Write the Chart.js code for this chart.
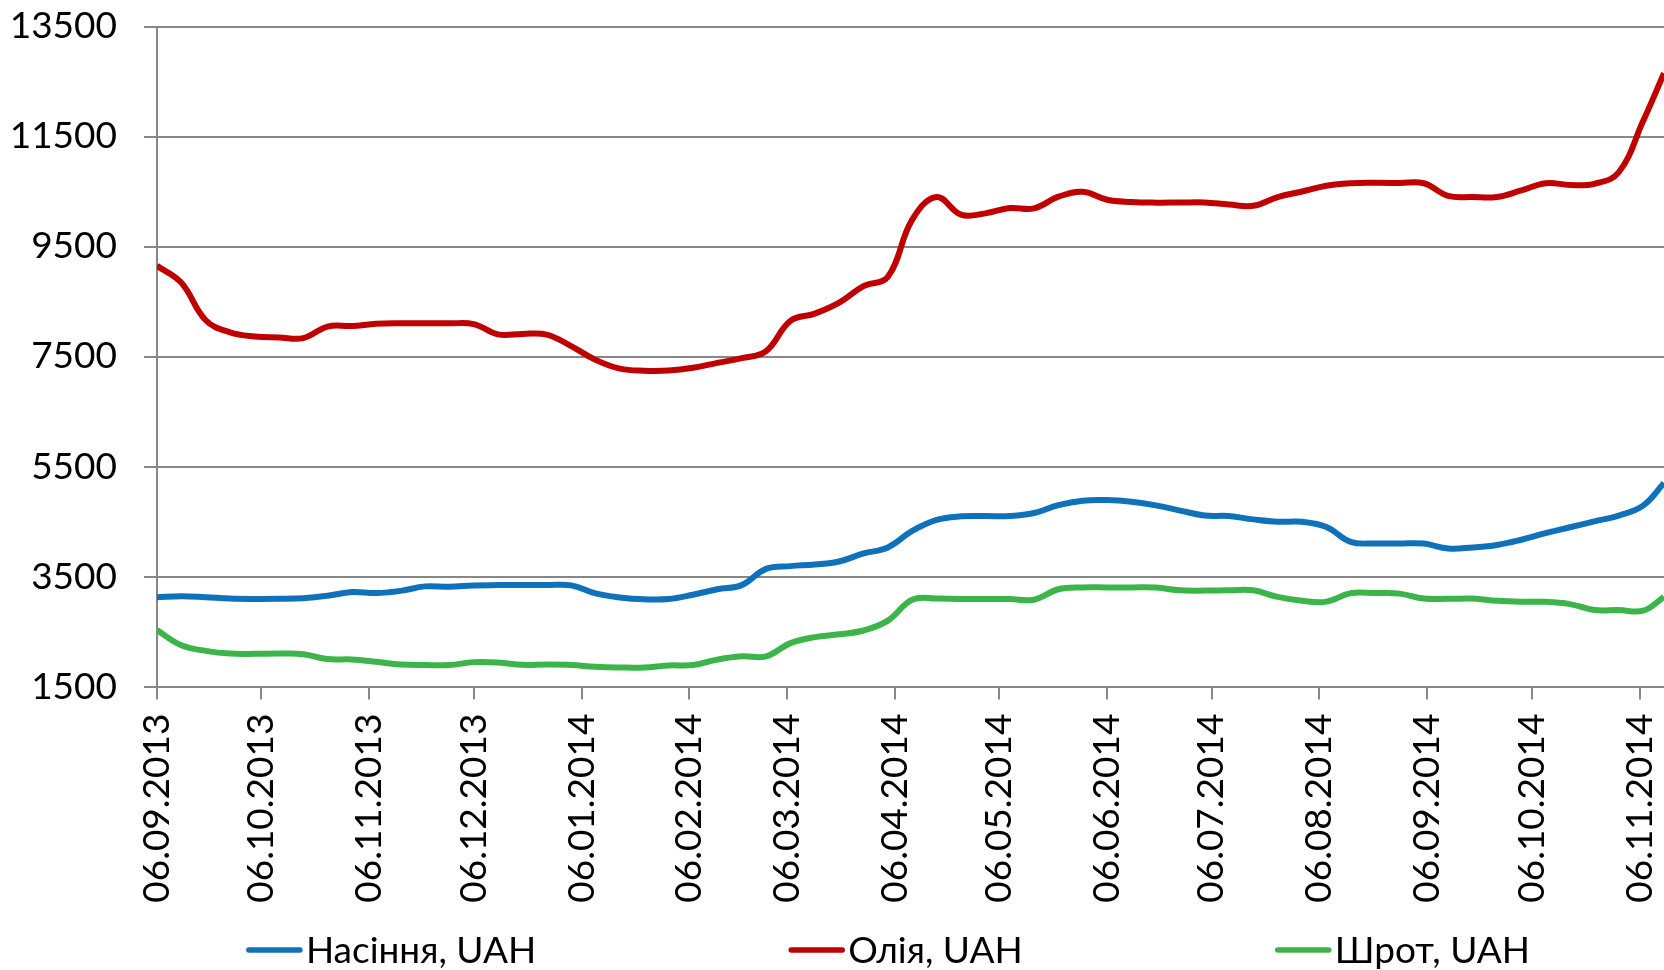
<!DOCTYPE html>
<html>
<head>
<meta charset="utf-8">
<title>Ціни</title>
<script src="https://cdn.jsdelivr.net/npm/chart.js@4.4.0/dist/chart.umd.min.js"></script>
<style>
    body { margin: 0; background: #fff; }
    canvas { display: block; }
</style>
</head>
<body>
<canvas id="prices" width="1664" height="970"></canvas>
<script>
// weekly observations
var dates = [
    '06.09.2013', '13.09.2013', '20.09.2013', '27.09.2013', '04.10.2013', '11.10.2013', '18.10.2013', '25.10.2013',
    '01.11.2013', '08.11.2013', '15.11.2013', '22.11.2013', '29.11.2013', '06.12.2013', '13.12.2013', '20.12.2013',
    '27.12.2013', '03.01.2014', '10.01.2014', '17.01.2014', '24.01.2014', '31.01.2014', '07.02.2014', '14.02.2014',
    '21.02.2014', '28.02.2014', '07.03.2014', '14.03.2014', '21.03.2014', '28.03.2014', '04.04.2014', '11.04.2014',
    '18.04.2014', '25.04.2014', '02.05.2014', '09.05.2014', '16.05.2014', '23.05.2014', '30.05.2014', '06.06.2014',
    '13.06.2014', '20.06.2014', '27.06.2014', '04.07.2014', '11.07.2014', '18.07.2014', '25.07.2014', '01.08.2014',
    '08.08.2014', '15.08.2014', '22.08.2014', '29.08.2014', '05.09.2014', '12.09.2014', '19.09.2014', '26.09.2014',
    '03.10.2014', '10.10.2014', '17.10.2014', '24.10.2014', '31.10.2014', '07.11.2014', '13.11.2014'
];

var seedPrices = [
    3122, 3144, 3125, 3100, 3093, 3095, 3105, 3150, 3220, 3200,
    3240, 3322, 3316, 3340, 3345, 3345, 3345, 3340, 3194, 3120,
    3087, 3091, 3170, 3270, 3345, 3640, 3690, 3720, 3775, 3920,
    4030, 4330, 4530, 4595, 4600, 4600, 4655, 4800, 4880, 4890,
    4860, 4795, 4700, 4610, 4600, 4540, 4497, 4495, 4400, 4130,
    4103, 4103, 4100, 4010, 4030, 4075, 4170, 4290, 4397, 4504,
    4610, 4790, 5200
];

var oilPrices = [
    9150, 8840, 8160, 7940, 7865, 7847, 7835, 8045, 8055, 8095,
    8104, 8104, 8104, 8090, 7903, 7912, 7900, 7690, 7440, 7280,
    7242, 7245, 7295, 7385, 7470, 7600, 8150, 8280, 8480, 8780,
    8950, 9990, 10400, 10080, 10103, 10200, 10194, 10406, 10495, 10350,
    10310, 10298, 10300, 10302, 10265, 10240, 10400, 10500, 10605, 10650,
    10658, 10655, 10650, 10420, 10400, 10400, 10520, 10650, 10620, 10640,
    10850, 11780, 12650
];

var mealPrices = [
    2527, 2250, 2150, 2100, 2095, 2100, 2090, 2000, 1994, 1950,
    1900, 1891, 1891, 1945, 1938, 1895, 1900, 1893, 1860, 1848,
    1848, 1885, 1891, 1990, 2050, 2050, 2290, 2400, 2450, 2520,
    2700, 3080, 3100, 3091, 3091, 3091, 3080, 3270, 3303, 3303,
    3303, 3300, 3250, 3245, 3250, 3250, 3130, 3060, 3045, 3200,
    3200, 3190, 3100, 3095, 3100, 3060, 3042, 3042, 3000, 2892,
    2891, 2880, 3130
];

var seriesNames = ['Насіння, UAH', 'Олія, UAH', 'Шрот, UAH'];

var xTickLabels = [
    '06.09.2013', '06.10.2013', '06.11.2013', '06.12.2013', '06.01.2014',
    '06.02.2014', '06.03.2014', '06.04.2014', '06.05.2014', '06.06.2014',
    '06.07.2014', '06.08.2014', '06.09.2014', '06.10.2014', '06.11.2014'
];

var yTicks = [1500, 3500, 5500, 7500, 9500, 11500, 13500];

var FONT_FAMILY = "Lato, 'Noto Sans', 'Liberation Sans', sans-serif";
var GRID = '#878787';

// days since the first date, so the x axis keeps calendar spacing
function dayNumber(s) {
    var p = s.split('.');
    var t = Date.UTC(+p[2], +p[1] - 1, +p[0]);
    var p0 = dates[0].split('.');
    var t0 = Date.UTC(+p0[2], +p0[1] - 1, +p0[0]);
    return Math.round((t - t0) / 86400000);
}

function toPoints(values) {
    return values.map(function(v, i) {
        return { x: dayNumber(dates[i]), y: v };
    });
}

var xTickDays = xTickLabels.map(dayNumber);

var bottomLegend = {
    id: 'bottomLegend',
    afterDraw: function(chart) {
        var ctx = chart.ctx;
        var sets = chart.data.datasets;
        var sample = 57, gap = 3, between = 252;
        ctx.save();
        ctx.font = '37px ' + FONT_FAMILY;
        ctx.textBaseline = 'middle';
        var widths = sets.map(function(d) { return sample + gap + ctx.measureText(d.label).width; });
        var total = widths.reduce(function(a, b) { return a + b; }, 0) + between * (sets.length - 1);
        var x = 888 - total / 2;
        var y = 950;
        sets.forEach(function(d, i) {
            ctx.strokeStyle = d.borderColor;
            ctx.lineWidth = 5.5;
            ctx.lineCap = 'round';
            ctx.beginPath();
            ctx.moveTo(x + 3, y);
            ctx.lineTo(x + sample - 3, y);
            ctx.stroke();
            ctx.fillStyle = '#000';
            ctx.fillText(d.label, x + sample + gap, y + 1);
            x += widths[i] + between;
        });
        ctx.restore();
    }
};

function makeSet(label, values, color) {
    return {
        label: label,
        data: toPoints(values),
        borderColor: color,
        backgroundColor: color,
        borderWidth: 6,
        pointRadius: 0,
        tension: 0.4,
        fill: false
    };
}

var ctx = document.getElementById('prices');
var chart = new Chart(ctx, {
    type: 'line',
    data: {
        datasets: [
            makeSet(seriesNames[0], seedPrices, '#1071bb'),
            makeSet(seriesNames[1], oilPrices, '#c00000'),
            makeSet(seriesNames[2], mealPrices, '#3bb54a')
        ]
    },
    options: {
        responsive: false,
        animation: false,
        layout: { padding: { top: 26.5, bottom: 63.4, left: 0, right: 0 } },
        plugins: {
            legend: { display: false },
            tooltip: { enabled: false }
        },
        scales: {
            x: {
                type: 'linear',
                min: 0,
                max: dayNumber(dates[dates.length - 1]),
                grid: {
                    drawOnChartArea: false,
                    drawTicks: true,
                    tickLength: 13,
                    color: GRID,
                    lineWidth: 2
                },
                border: { display: true, color: GRID, width: 2 },
                ticks: {
                    autoSkip: false,
                    maxRotation: 90,
                    minRotation: 90,
                    padding: 14,
                    color: '#000',
                    font: { family: FONT_FAMILY, size: 37 },
                    callback: function(value, index) { return xTickLabels[index]; }
                },
                afterBuildTicks: function(scale) {
                    scale.ticks = xTickDays.map(function(d) { return { value: d }; });
                },
                afterFit: function(scale) {
                    scale.height = 220;
                    scale.paddingLeft = 0;
                    scale.paddingRight = 0;
                }
            },
            y: {
                min: yTicks[0],
                max: yTicks[yTicks.length - 1],
                grid: {
                    color: GRID,
                    lineWidth: 2,
                    tickLength: 13
                },
                border: { display: true, color: GRID, width: 2 },
                ticks: {
                    padding: 27,
                    color: '#000',
                    font: { family: FONT_FAMILY, size: 37 },
                    callback: function(value) { return String(value); }
                },
                afterBuildTicks: function(scale) {
                    scale.ticks = yTicks.map(function(v) { return { value: v }; });
                },
                afterFit: function(scale) {
                    scale.width = 157;
                    scale.paddingTop = 0;
                    scale.paddingBottom = 0;
                }
            }
        }
    },
    plugins: [bottomLegend]
});
</script>
</body>
</html>
